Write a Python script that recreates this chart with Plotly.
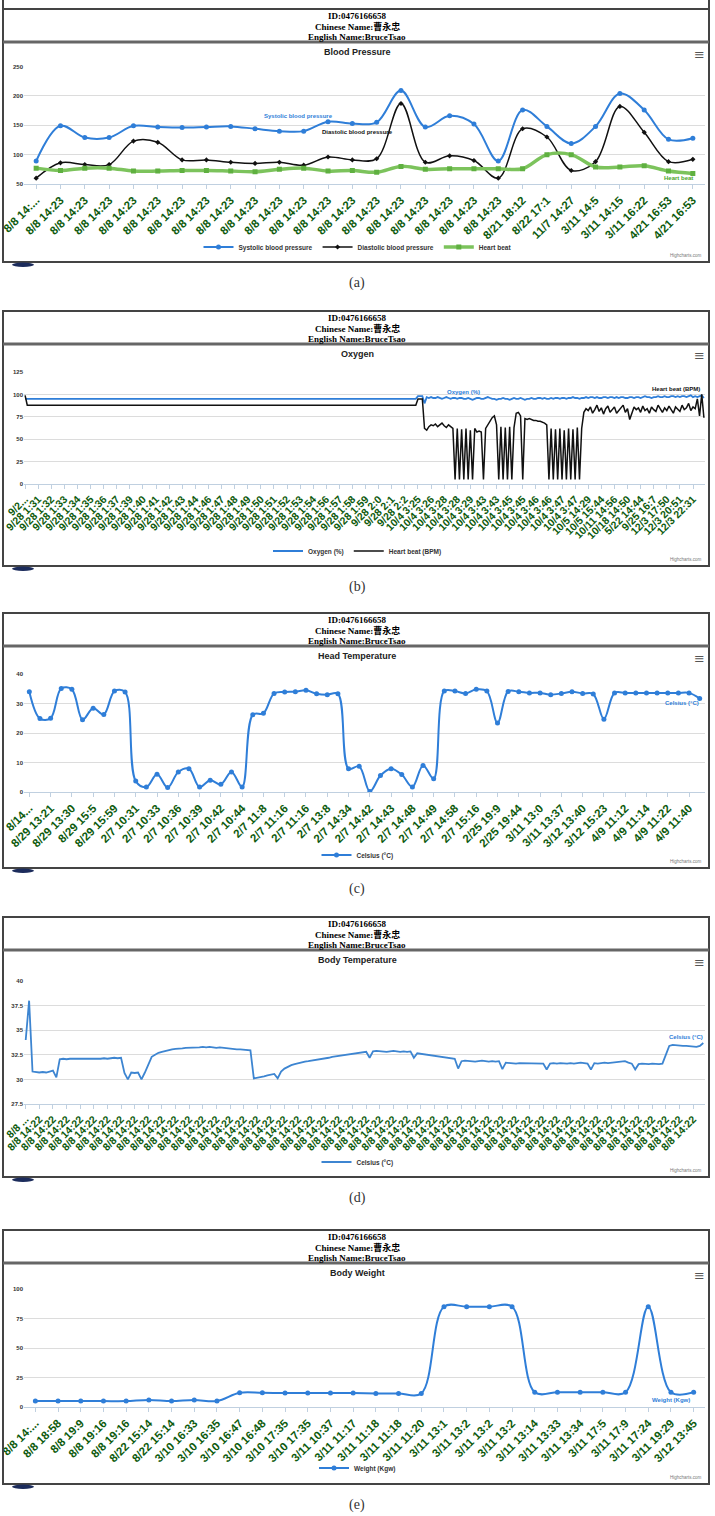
import plotly.graph_objects as go

W, H = 715, 1516

# ---------------------------------------------------------------- header text
patient_id = "ID:0476166658"
chinese_name = "Chinese Name:曹永忠"
english_name = "English Name:BruceTsao"

# ---------------------------------------------------------------- (a) blood pressure
bp_labels = ["8/8 14:...", "8/8 14:23", "8/8 14:23", "8/8 14:23", "8/8 14:23", "8/8 14:23",
             "8/8 14:23", "8/8 14:23", "8/8 14:23", "8/8 14:23", "8/8 14:23", "8/8 14:23",
             "8/8 14:23", "8/8 14:23", "8/8 14:23", "8/8 14:23", "8/8 14:23", "8/8 14:23",
             "8/8 14:23", "8/8 14:23", "8/21 18:12", "8/22 17:1", "11/7 14:27", "3/11 14:5",
             "3/11 14:15", "3/11 16:22", "4/21 16:53", "4/21 16:53"]
systolic = [89, 149, 129, 129, 149, 147, 146, 147, 148, 144, 140, 140, 156, 153,
            155, 209, 147, 166, 152, 89, 176, 148, 119, 148, 204, 176, 126, 128]
diastolic = [60, 86, 83, 83, 123, 121, 91, 91, 87, 85, 87, 82, 96, 91,
             93, 187, 87, 98, 90, 60, 144, 130, 73, 88, 182, 138, 88, 92]
heart_beat = [77, 73, 77, 77, 72, 72, 73, 73, 72, 71, 75, 77, 72, 73,
              70, 80, 75, 76, 76, 76, 76, 100, 100, 79, 79, 81, 72, 68]

# ---------------------------------------------------------------- (b) oxygen
ox_labels = ["9/2...", "9/28 1:31", "9/28 1:32", "9/28 1:33", "9/28 1:34", "9/28 1:35",
             "9/28 1:36", "9/28 1:37", "9/28 1:39", "9/28 1:40", "9/28 1:41", "9/28 1:42",
             "9/28 1:43", "9/28 1:44", "9/28 1:46", "9/28 1:47", "9/28 1:48", "9/28 1:49",
             "9/28 1:50", "9/28 1:51", "9/28 1:52", "9/28 1:53", "9/28 1:54", "9/28 1:56",
             "9/28 1:57", "9/28 1:58", "9/28 1:59", "9/28 2:0", "9/28 2:1", "9/28 2:2",
             "10/4 3:25", "10/4 3:26", "10/4 3:28", "10/4 3:28", "10/4 3:29", "10/4 3:43",
             "10/4 3:43", "10/4 3:45", "10/4 3:45", "10/4 3:46", "10/4 3:46", "10/4 3:47",
             "10/4 3:47", "10/5 14:29", "10/5 15:44", "10/11 14:56", "10/18 14:50",
             "5/22 14:44", "9/25 16:7", "12/3 17:50", "12/3 20:51", "12/3 22:31"]
oxygen = [
    95, 95, 95, 95, 95, 95, 95, 95, 95, 95, 95, 95, 95, 95, 95, 95, 95, 95, 95, 95,
    95, 95, 95, 95, 95, 95, 95, 95, 95, 95, 95, 95, 95, 95, 95, 95, 95, 95, 95, 95,
    95, 95, 95, 95, 95, 95, 95, 95, 95, 95, 95, 95, 95, 95, 95, 95, 95, 95, 95, 95,
    95, 95, 95, 95, 95, 95, 95, 95, 95, 95, 95, 95, 95, 95, 95, 95, 95, 95, 95, 95,
    95, 95, 95, 95, 95, 95, 95, 95, 95, 95, 95, 95, 95, 95, 95, 95, 95, 95, 95, 95,
    95, 95, 95, 95, 95, 95, 95, 95, 95, 95, 95, 95, 95, 95, 95, 95, 95, 95, 95, 95,
    95, 95, 95, 95, 95, 95, 95, 95, 95, 95, 95, 95, 95, 95, 95, 95, 95, 95, 95, 95,
    95, 95, 95, 95, 95, 95, 95, 95, 95, 95, 95, 95, 95, 95, 95, 95, 95, 95, 95, 95,
    95, 95, 95, 95, 95, 95, 95, 95, 95, 95, 95, 95, 95, 95, 95, 95, 95, 95, 95, 95,
    98, 98, 98, 90,
    97, 96, 97, 96, 96, 97, 96, 95, 96, 97, 96, 95, 96,
    96, 95, 96, 96, 95, 95, 96, 95, 94, 95,
    96, 96, 95, 95, 96, 97, 96, 95, 95, 94,
    95, 95, 96, 95, 95, 94, 95, 96, 95, 95,
    96, 95, 94, 95, 95, 96, 95, 95, 96, 96,
    95, 96, 95, 95, 96, 95, 96, 96, 95, 96,
    96, 95, 96, 96, 97, 96, 96, 95, 96,
    96, 97, 96, 97, 97, 96, 97, 96, 96, 97,
    97, 96, 97, 97, 96, 97, 96, 97, 97, 96,
    96, 97, 97, 96, 97, 97, 96, 97, 98, 97,
    97, 96, 97, 97, 98, 97, 97, 98, 97, 97,
    98, 98, 97, 98, 97, 98, 98, 97, 98, 99,
    97, 98, 97, 98, 99, 96]
heart_bpm = [
    99, 88, 88, 88, 88, 88, 88, 88, 88, 88, 88, 88, 88, 88, 88, 88, 88, 88, 88, 88,
    88, 88, 88, 88, 88, 88, 88, 88, 88, 88, 88, 88, 88, 88, 88, 88, 88, 88, 88, 88,
    88, 88, 88, 88, 88, 88, 88, 88, 88, 88, 88, 88, 88, 88, 88, 88, 88, 88, 88, 88,
    88, 88, 88, 88, 88, 88, 88, 88, 88, 88, 88, 88, 88, 88, 88, 88, 88, 88, 88, 88,
    88, 88, 88, 88, 88, 88, 88, 88, 88, 88, 88, 88, 88, 88, 88, 88, 88, 88, 88, 88,
    88, 88, 88, 88, 88, 88, 88, 88, 88, 88, 88, 88, 88, 88, 88, 88, 88, 88, 88, 88,
    88, 88, 88, 88, 88, 88, 88, 88, 88, 88, 88, 88, 88, 88, 88, 88, 88, 88, 88, 88,
    88, 88, 88, 88, 88, 88, 88, 88, 88, 88, 88, 88, 88, 88, 88, 88, 88, 88, 88, 88,
    88, 88, 88, 88, 88, 88, 88, 88, 88, 88, 88, 88, 88, 88, 88, 88, 88, 88, 88, 88,
    95, 95, 95, 62,
    60, 64, 66, 65, 67, 64, 66, 68, 65, 63, 66, 64, 62,
    5, 62, 5, 61, 5, 62, 5, 60, 5, 62, 58,
    59, 58, 5,
    62, 66, 70, 74, 76, 66,
    5, 64, 5, 63, 5, 64, 5, 63,
    79, 80, 76, 5,
    73, 72, 73, 72, 71, 71, 70, 70, 69, 68, 66,
    5, 62, 5, 61, 5, 62, 5, 60, 5, 62, 5, 61, 5, 63, 5, 62,
    80, 84, 82, 86, 79, 83, 88, 81, 85, 78,
    84, 87, 80, 83, 86, 79, 82, 85, 88, 80,
    84, 72, 79, 86, 83, 85, 80, 87, 82, 84,
    79, 86, 83, 81, 88, 84, 80, 85, 82, 87,
    83, 79, 86, 84, 81, 88, 83, 85, 90, 82,
    86, 84, 95, 76, 100, 74]

# ---------------------------------------------------------------- (c) head temperature
head_labels = ["8/14...", "8/29 13:21", "8/29 13:30", "8/29 15:5", "8/29 15:59",
               "2/7 10:31", "2/7 10:33", "2/7 10:36", "2/7 10:39", "2/7 10:42",
               "2/7 10:44", "2/7 11:8", "2/7 11:16", "2/7 11:16", "2/7 13:8",
               "2/7 14:34", "2/7 14:42", "2/7 14:43", "2/7 14:48", "2/7 14:49",
               "2/7 14:58", "2/7 15:16", "2/25 19:9", "2/25 19:44", "3/11 13:0",
               "3/11 13:37", "3/12 13:40", "3/12 15:23", "4/9 11:12", "4/9 11:14",
               "4/9 11:22", "4/9 11:40"]
head_temp = [34.0, 24.9, 25.0, 35.1, 34.8, 24.5, 28.4, 26.3, 34.2, 33.9,
             3.7, 1.7, 6.0, 1.5, 6.8, 7.9, 1.7, 4.0, 2.6, 6.8,
             1.7, 26.2, 26.7, 33.4, 33.9, 34.0, 34.5, 33.3, 33.0, 33.3,
             7.9, 8.7, 0.2, 5.6, 7.9, 5.9, 1.7, 9.0, 4.5, 34.2,
             34.2, 33.4, 34.8, 34.2, 23.4, 34.1, 34.0, 33.6, 33.6, 33.0,
             33.4, 34.0, 33.4, 33.2, 24.7, 33.6, 33.6, 33.6, 33.6, 33.6,
             33.6, 33.6, 33.6, 31.7]

# ---------------------------------------------------------------- (d) body temperature
body_labels = ["8/8 ...", "8/8 14:22", "8/8 14:22", "8/8 14:22", "8/8 14:22",
               "8/8 14:22", "8/8 14:22", "8/8 14:22", "8/8 14:22", "8/8 14:22",
               "8/8 14:22", "8/8 14:22", "8/8 14:22", "8/8 14:22", "8/8 14:22",
               "8/8 14:22", "8/8 14:22", "8/8 14:22", "8/8 14:22", "8/8 14:22",
               "8/8 14:22", "8/8 14:22", "8/8 14:22", "8/8 14:22", "8/8 14:22",
               "8/8 14:22", "8/8 14:22", "8/8 14:22", "8/8 14:22", "8/8 14:22",
               "8/8 14:22", "8/8 14:22", "8/8 14:22", "8/8 14:22", "8/8 14:22",
               "8/8 14:22", "8/8 14:22", "8/8 14:22", "8/8 14:22", "8/8 14:22",
               "8/8 14:22", "8/8 14:22", "8/8 14:22", "8/8 14:22", "8/8 14:22",
               "8/8 14:22", "8/8 14:22", "8/8 14:22", "8/8 14:22", "8/8 14:22"]
body_temp = [
    34.0, 38.0, 30.8, 30.75, 30.7, 30.75, 30.7, 30.8, 30.9, 30.2,
    32.05, 32.1, 32.05, 32.1, 32.1, 32.05, 32.1, 32.1, 32.05, 32.1,
    32.05, 32.1, 32.1, 32.15, 32.1, 32.15, 32.2, 32.15, 32.2, 30.65,
    30.0, 30.7, 30.65, 30.7, 30.0, 30.7, 31.6, 32.3, 32.5, 32.7,
    32.8, 32.9, 33.0, 33.05, 33.1, 33.1, 33.15, 33.2, 33.2, 33.25,
    33.25, 33.25, 33.3, 33.25, 33.3, 33.25, 33.2, 33.25, 33.2, 33.15,
    33.1, 33.1, 33.05, 33.05, 33.0, 33.0, 32.95, 30.1, 30.15, 30.25,
    30.3, 30.4, 30.45, 30.55, 30.1, 30.8, 31.1, 31.3, 31.45, 31.55,
    31.65, 31.7, 31.8, 31.85, 31.9, 31.95, 32.0, 32.05, 32.15, 32.2,
    32.3, 32.35, 32.4, 32.45, 32.5, 32.55, 32.6, 32.7, 32.75, 32.8,
    32.8, 32.2, 32.85, 32.9, 32.85, 32.85, 32.8, 32.85, 32.9, 32.85,
    32.8, 32.85, 32.8, 32.85, 32.2, 32.65, 32.6, 32.55, 32.5, 32.45,
    32.4, 32.35, 32.3, 32.25, 32.2, 32.15, 32.1, 31.1, 31.85, 31.9,
    31.85, 31.85, 31.8, 31.85, 31.9, 31.85, 31.8, 31.85, 31.8, 31.85,
    31.05, 31.7, 31.65, 31.65, 31.6, 31.65, 31.65, 31.6, 31.65, 31.6,
    31.6, 31.65, 31.6, 31.0, 31.6, 31.65, 31.6, 31.65, 31.6, 31.6,
    31.65, 31.6, 31.65, 31.7, 31.65, 31.6, 31.0, 31.65, 31.6, 31.65,
    31.7, 31.65, 31.7, 31.7, 31.75, 31.8, 31.85, 31.7, 31.6, 31.0,
    31.55, 31.6, 31.55, 31.55, 31.6, 31.55, 31.55, 31.6, 32.5, 33.4,
    33.5, 33.45, 33.45, 33.4, 33.4, 33.35, 33.35, 33.3, 33.4, 33.7]

# ---------------------------------------------------------------- (e) body weight
weight_labels = ["8/8 14:...", "8/8 18:58", "8/8 19:9", "8/8 19:16", "8/8 19:16",
                 "8/22 15:14", "8/22 15:14", "3/10 16:33", "3/10 16:35", "3/10 16:47",
                 "3/10 16:48", "3/10 17:35", "3/10 17:35", "3/11 10:37", "3/11 11:17",
                 "3/11 11:18", "3/11 11:18", "3/11 11:20", "3/11 13:1", "3/11 13:2",
                 "3/11 13:2", "3/11 13:2", "3/11 13:14", "3/11 13:33", "3/11 13:34",
                 "3/11 17:5", "3/11 17:9", "3/11 17:24", "3/11 19:29", "3/12 13:45"]
weight = [5, 5, 5, 5, 5, 6, 5, 6, 5, 12, 12, 11.8, 11.8, 11.8, 11.8, 11.5, 11.5, 11.5,
          85, 85, 85, 85, 12.5, 12.5, 12.5, 12.5, 12.5, 85, 12.5, 12.5]

# ================================================================ layout helpers
def fx(p):
    return p / W


def fy(p):
    return 1 - p / H


BLUE = "#2f7ed8"
GREEN_TXT = "#0d5a0d"
PL, PR = 24, 705

panels = [
    dict(T=9, B=262, top=66.5, bot=184, leg=247, title="Blood Pressure", cap="(a)",
         labels=bp_labels, ncat=len(systolic), step=1, yr=[50, 250], dt=50, fs=11.5),
    dict(T=311, B=566, top=372, bot=484, leg=551, title="Oxygen", cap="(b)",
         labels=ox_labels, ncat=len(oxygen), step=6, yr=[0, 125], dt=25, fs=10.5),
    dict(T=613, B=868, top=674, bot=792, leg=855, title="Head Temperature", cap="(c)",
         labels=head_labels, ncat=len(head_temp), step=2, yr=[0, 40], dt=10, fs=11.5),
    dict(T=917, B=1177, top=981, bot=1104, leg=1162, title="Body Temperature", cap="(d)",
         labels=body_labels, ncat=len(body_temp), step=4, yr=[27.5, 40], dt=2.5, fs=10.5),
    dict(T=1230, B=1484, top=1289, bot=1407, leg=1468, title="Body Weight", cap="(e)",
         labels=weight_labels, ncat=len(weight), step=1, yr=[0, 100], dt=25, fs=11.5),
]

fig = go.Figure()
layout = {}
shapes = []
annotations = []

for i, p in enumerate(panels, start=1):
    sfx = "" if i == 1 else str(i)
    xname, yname = "xaxis" + sfx, "yaxis" + sfx
    xr, yr_ = "x" + sfx, "y" + sfx
    tickvals = list(range(0, p["ncat"], p["step"]))[:len(p["labels"])]
    layout[xname] = dict(
        domain=[fx(PL), fx(PR)], anchor=yr_, range=[-0.5, p["ncat"] - 0.5],
        tickmode="array", tickvals=tickvals, ticktext=p["labels"], tickangle=-45,
        tickfont=dict(family="Liberation Sans, Arial", size=p["fs"], color=GREEN_TXT,
                      weight="bold"),
        showgrid=False, zeroline=False, showline=True, linecolor="#c0d0e0",
        linewidth=1, ticks="outside", ticklen=4, tickcolor="#c0d0e0",
        fixedrange=True, automargin=False)
    layout[yname] = dict(
        domain=[fy(p["bot"]), fy(p["top"])], anchor=xr, range=p["yr"], dtick=p["dt"],
        tick0=p["yr"][0], showgrid=True, gridcolor="#dcdcdc", gridwidth=1,
        zeroline=False, showline=False, ticks="",
        tickfont=dict(family="Liberation Sans, Arial", size=6, color="#333",
                      weight="bold"),
        fixedrange=True, automargin=False)
    leg_name = "legend" + sfx
    layout[leg_name] = dict(
        orientation="h", x=0.5, xanchor="center", y=fy(p["leg"]), yanchor="middle",
        font=dict(family="Liberation Sans, Arial", size=6.5, color="#333", weight="bold"),
        bgcolor="rgba(0,0,0,0)", itemwidth=30, tracegroupgap=0)
    p["xr"], p["yr_"], p["leg_name"] = xr, yr_, leg_name

    T, B = p["T"], p["B"]
    # panel frame
    shapes.append(dict(type="rect", xref="paper", yref="paper", x0=fx(3), x1=fx(709),
                       y0=fy(B), y1=fy(T), line=dict(color="#444", width=2)))
    shapes.append(dict(type="line", xref="paper", yref="paper", x0=fx(3), x1=fx(709),
                       y0=fy(T + 33), y1=fy(T + 33), line=dict(color="#666", width=3)))
    # small dark blob under frame
    shapes.append(dict(type="circle", xref="paper", yref="paper", x0=fx(12), x1=fx(34),
                       y0=fy(B + 5), y1=fy(B + 0.5), fillcolor="#1c2c5c",
                       line=dict(width=0)))
    # header lines
    for txt, dy in ((patient_id, 7), (chinese_name, 17.5), (english_name, 27.5)):
        annotations.append(dict(
            xref="paper", yref="paper", x=fx(357), y=fy(T + dy), text=txt,
            showarrow=False, xanchor="center", yanchor="middle",
            font=dict(family="Liberation Serif, Noto Sans CJK TC", size=9, color="#000",
                      weight="bold")))
    # chart title
    annotations.append(dict(
        xref="paper", yref="paper", x=fx(357), y=fy(T + 43), text=p["title"],
        showarrow=False, xanchor="center", yanchor="middle",
        font=dict(family="Liberation Sans, Arial", size=9, color="#222", weight="bold")))
    # menu icon
    annotations.append(dict(
        xref="paper", yref="paper", x=fx(699), y=fy(T + 45), text="≡",
        showarrow=False, xanchor="center", yanchor="middle",
        font=dict(family="DejaVu Sans", size=13, color="#555")))
    # credits
    annotations.append(dict(
        xref="paper", yref="paper", x=fx(704), y=fy(B - 7), text="Highcharts.com",
        showarrow=False, xanchor="right", yanchor="middle",
        font=dict(family="Liberation Sans, Arial", size=4.5, color="#777")))
    # caption
    annotations.append(dict(
        xref="paper", yref="paper", x=fx(357), y=fy(B + 21), text=p["cap"],
        showarrow=False, xanchor="center", yanchor="middle",
        font=dict(family="Liberation Serif, DejaVu Serif", size=14, color="#333")))

# top continuation lines above the first frame
for xx in (3, 709):
    shapes.append(dict(type="line", xref="paper", yref="paper", x0=fx(xx), x1=fx(xx),
                       y0=fy(9), y1=fy(0), line=dict(color="#444", width=2)))

# ================================================================ traces
pa, pb, pc, pd, pe = panels

fig.add_trace(go.Scatter(
    x=list(range(len(systolic))), y=systolic, name="Systolic blood pressure",
    mode="lines+markers", line=dict(color=BLUE, width=2, shape="spline", smoothing=1),
    marker=dict(symbol="circle", size=5, color=BLUE), xaxis=pa["xr"], yaxis=pa["yr_"],
    legend=pa["leg_name"]))
fig.add_trace(go.Scatter(
    x=list(range(len(diastolic))), y=diastolic, name="Diastolic blood pressure",
    mode="lines+markers", line=dict(color="#111", width=1.5, shape="spline", smoothing=1),
    marker=dict(symbol="diamond", size=4, color="#111"), xaxis=pa["xr"], yaxis=pa["yr_"],
    legend=pa["leg_name"]))
fig.add_trace(go.Scatter(
    x=list(range(len(heart_beat))), y=heart_beat, name="Heart beat",
    mode="lines+markers", line=dict(color="#7cc35c", width=3.5, shape="spline", smoothing=1),
    marker=dict(symbol="square", size=5, color="#5fb040"), xaxis=pa["xr"], yaxis=pa["yr_"],
    legend=pa["leg_name"]))

fig.add_trace(go.Scatter(
    x=list(range(len(oxygen))), y=oxygen, name="Oxygen (%)", mode="lines",
    line=dict(color=BLUE, width=1.8), xaxis=pb["xr"], yaxis=pb["yr_"],
    legend=pb["leg_name"]))
fig.add_trace(go.Scatter(
    x=list(range(len(heart_bpm))), y=heart_bpm, name="Heart beat (BPM)", mode="lines",
    line=dict(color="#111", width=1.5), xaxis=pb["xr"], yaxis=pb["yr_"],
    legend=pb["leg_name"]))

fig.add_trace(go.Scatter(
    x=list(range(len(head_temp))), y=head_temp, name="Celsius (°C)",
    mode="lines+markers", line=dict(color=BLUE, width=2, shape="spline", smoothing=1),
    marker=dict(symbol="circle", size=5, color=BLUE), xaxis=pc["xr"], yaxis=pc["yr_"],
    legend=pc["leg_name"]))

fig.add_trace(go.Scatter(
    x=list(range(len(body_temp))), y=body_temp, name="Celsius (°C)", mode="lines",
    line=dict(color="#3d85d1", width=1.8), xaxis=pd["xr"], yaxis=pd["yr_"],
    legend=pd["leg_name"]))

fig.add_trace(go.Scatter(
    x=list(range(len(weight))), y=weight, name="Weight (Kgw)",
    mode="lines+markers", line=dict(color=BLUE, width=2, shape="spline", smoothing=1),
    marker=dict(symbol="circle", size=5, color=BLUE), xaxis=pe["xr"], yaxis=pe["yr_"],
    legend=pe["leg_name"]))

# series labels (Highcharts series-label style)
series_labels = [
    (pa, 10.8, 166, "Systolic blood pressure", BLUE),
    (pa, 13.2, 139, "Diastolic blood pressure", "#111"),
    (pa, 26.4, 60, "Heart beat", "#4aa52a"),
    (pb, 201, 103, "Oxygen (%)", BLUE),
    (pb, 298, 106, "Heart beat (BPM)", "#111"),
    (pc, 61.3, 30.2, "Celsius (°C)", BLUE),
    (pd, 194, 34.3, "Celsius (°C)", BLUE),
    (pe, 28.0, 6, "Weight (Kgw)", BLUE),
]
for p, xv, yv, txt, col in series_labels:
    annotations.append(dict(
        xref=p["xr"], yref=p["yr_"], x=xv, y=yv, text=txt, showarrow=False,
        xanchor="center", yanchor="middle",
        font=dict(family="Liberation Sans, Arial", size=6, color=col, weight="bold")))

fig.update_layout(
    width=W, height=H, margin=dict(l=0, r=0, t=0, b=0),
    paper_bgcolor="white", plot_bgcolor="white", showlegend=True,
    shapes=shapes, annotations=annotations, hovermode=False,
    **layout)

fig.write_html(
    "out.html",
    config={"displayModeBar": False, "staticPlot": True},
    post_script="document.body.style.margin='0';document.body.style.padding='0';"
                "document.body.style.overflow='hidden';"
                "document.documentElement.style.overflow='hidden';")
